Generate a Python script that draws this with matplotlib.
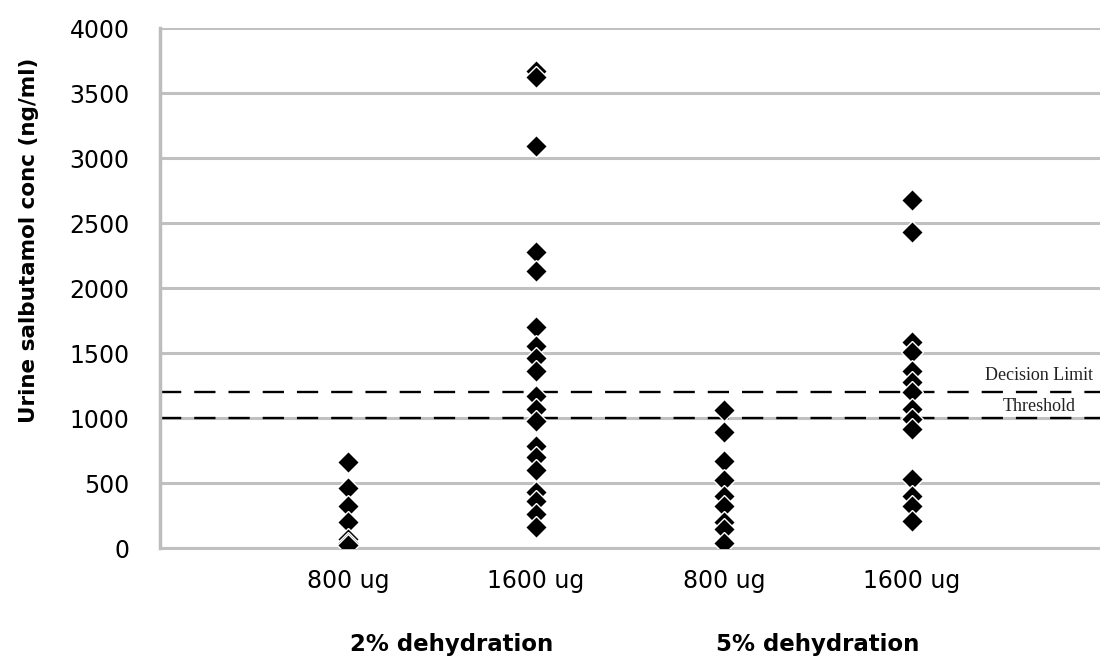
import matplotlib
matplotlib.use("Agg")
import matplotlib.pyplot as plt

# Data
categories = ["800 ug", "1600 ug", "800 ug", "1600 ug"]
groups = ["2% dehydration", "5% dehydration"]
vals_2pct_800 = [660, 460, 320, 200, 70, 40, 20]
vals_2pct_1600 = [3670, 3620, 3090, 2275, 2130, 1700, 1555, 1460, 1360, 1170, 1070,
                  980, 785, 700, 600, 430, 360, 260, 160]
vals_5pct_800 = [1065, 890, 670, 525, 400, 320, 200, 150, 40]
vals_5pct_1600 = [2680, 2430, 1585, 1510, 1360, 1275, 1200, 1070, 990, 915, 530, 400, 320, 210]
series = [vals_2pct_800, vals_2pct_1600, vals_5pct_800, vals_5pct_1600]
decision_limit = 1200
threshold = 1000
yticks = [0, 500, 1000, 1500, 2000, 2500, 3000, 3500, 4000]

plt.rcParams['font.family'] = ['DejaVu Sans']

fig = plt.figure(figsize=(11, 6.67), dpi=100)
ax = fig.add_axes([0.1455, 0.1784, 0.8545, 0.7796])

for i, vals in enumerate(series):
    ax.plot([i + 1] * len(vals), vals, linestyle='none', marker='D', markersize=11,
            color='black', markeredgecolor='white', markeredgewidth=1.0, zorder=3)

ax.axhline(decision_limit, color='black', linestyle=(0, (9, 5.5)), linewidth=1.7, zorder=2)
ax.axhline(threshold, color='black', linestyle=(0, (9, 5.5)), linewidth=1.7, zorder=2)
ax.text(4.675, decision_limit + 60, "Decision Limit", family='Liberation Serif',
        fontsize=13, ha='center', va='bottom', color='#222222')
ax.text(4.675, threshold + 25, "Threshold", family='Liberation Serif',
        fontsize=13, ha='center', va='bottom', color='#222222')

ax.set_xlim(0, 5)
ax.set_ylim(0, 4000)
ax.set_yticks(yticks)
ax.set_yticklabels([str(v) for v in yticks], fontsize=17)
ax.set_xticks([1, 2, 3, 4])
ax.set_xticklabels(categories, fontsize=17)
ax.tick_params(axis='y', length=0, pad=22)
ax.tick_params(axis='x', length=0, pad=15)
ax.grid(axis='y', color='#c0c0c0', linewidth=2.2)
ax.set_axisbelow(True)
for s in ['top', 'right']:
    ax.spines[s].set_visible(False)
ax.spines['left'].set_color('#bdbdbd')
ax.spines['left'].set_linewidth(2.5)
ax.spines['bottom'].set_color('#c0c0c0')
ax.spines['bottom'].set_linewidth(2.2)

fig.text(0.026, 0.64, "Urine salbutamol conc (ng/ml)", fontsize=15.5, fontweight='bold',
         rotation=90, ha='center', va='center')

for gx, g in zip([1.55, 3.5], groups):
    ax.text(gx, -740, g, fontsize=16.5, fontweight='bold', ha='center', va='center')

fig.savefig("out.png", dpi=100)
